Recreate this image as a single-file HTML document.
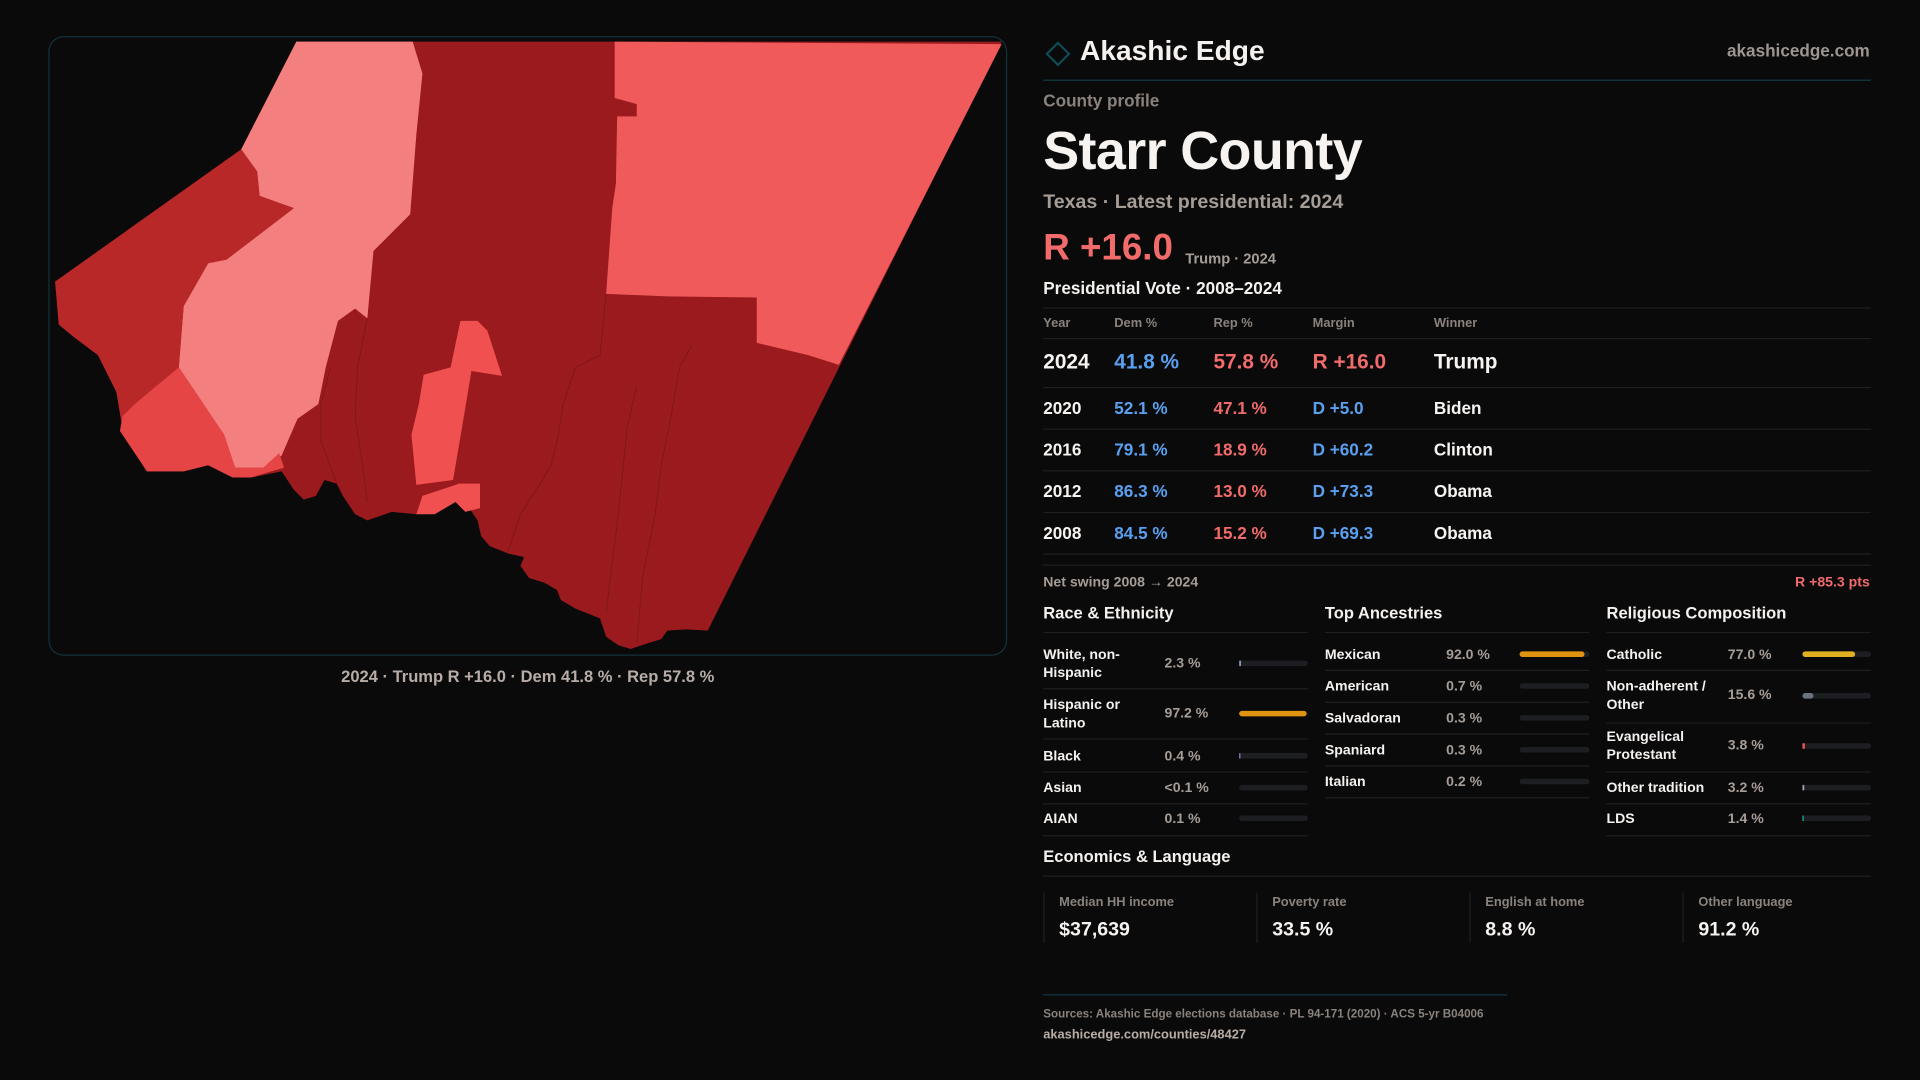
<!DOCTYPE html>
<html><head><meta charset="utf-8"><style>
html,body{margin:0;padding:0;background:#0a0a0b;}
svg{display:block}
text{font-family:"Liberation Sans",sans-serif;}
</style></head><body>
<svg width="1920" height="1080" viewBox="0 0 1568 882" xmlns="http://www.w3.org/2000/svg">
<rect width="1568" height="882" fill="#0a0a0b"/>
<defs><clipPath id="cp"><rect x="40" y="30" width="782" height="505" rx="12"/></clipPath></defs>
<rect x="40" y="30" width="782" height="505" rx="12" fill="#0a0a0b" stroke="#12323a" stroke-width="1"/>
<g clip-path="url(#cp)">
<!-- base dark -->
<polygon fill="#9a1a1e" points="242,34 818,34 578,515 560,514 545,515 540,522 530,525 515,530 505,527 495,520 490,505 470,497 458,490 455,482 445,476 432,472 425,462 428,455 415,452 400,446 393,438 390,425 380,410 372,408 360,415 340,420 320,418 300,425 290,420 280,405 275,395 265,392 258,405 248,408 240,400 230,385 205,390 190,390 170,380 150,385 120,385 110,370 98,352 100,340 95,320 80,290 60,275 48,265 45,230 197,122"/>
<!-- salmon NE -->
<polygon fill="#f05a5a" points="502,34 818,36 685,298 660,290 618,280 618,243 545,242 495,240 500,170 503,150 504,95 520,95 520,85 502,80"/>
<!-- pink -->
<polygon fill="#f47f7f" points="242,34 337,34 345,60 340,110 335,175 305,205 300,260 290,252 276,262 266,300 260,330 243,342 230,372 215,382 192,382 183,355 146,300 150,250 170,215 185,212 240,170 212,160 210,140 197,122"/>
<!-- mid red left -->
<polygon fill="#b82828" points="197,122 45,230 48,265 60,275 80,290 95,320 100,350 110,330 146,300 150,250 170,215 185,212 240,170 212,160 210,140"/>
<!-- bright red SW -->
<polygon fill="#e64545" points="110,330 146,300 183,355 192,382 215,382 228,370 232,382 218,386 205,390 190,390 170,380 150,385 120,385 110,370 98,352 100,340"/>
<!-- small bright middle -->
<polygon fill="#f05050" points="376,262 384,262 390,262 398,270 410,307 385,303 378,345 370,392 340,396 336,355 342,330 346,306 368,300"/>
<polygon fill="#f05050" points="345,405 375,395 392,395 392,415 380,418 372,410 355,420 340,420"/>
<!-- subtle boundaries -->
<g fill="none" stroke="#7a1418" stroke-width="0.6">
<polyline points="495,240 490,290 470,300 460,330 455,360 450,380 438,400 425,420 415,450"/>
<polyline points="565,282 555,300 548,340 540,380 535,420 525,470 520,525"/>
<polyline points="520,315 512,350 505,420 495,500"/>
<polyline points="270,300 262,330 262,360 275,395"/>
<polyline points="300,260 292,300 290,340 296,380 300,410"/>
</g>
</g>
<text x="431" y="557" text-anchor="middle" font-size="13.5" font-weight="bold" fill="#b7aca6">2024 · Trump R +16.0 · Dem 41.8 % · Rep 57.8 %</text>

<!-- header -->
<polygon points="864,35 873,44 864,53 855,44" fill="none" stroke="#0f4a55" stroke-width="1.8"/>
<text x="882" y="49" font-size="23" font-weight="bold" fill="#f4f1ee">Akashic Edge</text>
<text x="1527" y="46" text-anchor="end" font-size="14" font-weight="bold" fill="#9d958f">akashicedge.com</text>
<line x1="852" y1="65.5" x2="1528" y2="65.5" stroke="#0f3a44" stroke-width="1"/>
<text x="852" y="87" font-size="14" font-weight="bold" fill="#8a827c">County profile</text>
<text x="852" y="138" font-size="44" font-weight="bold" fill="#f6f3f0" letter-spacing="-0.5">Starr County</text>
<text x="852" y="170" font-size="16" font-weight="bold" fill="#a69d96">Texas · Latest presidential: 2024</text>
<text x="852" y="212" font-size="30" font-weight="bold" fill="#f26b6b">R +16.0</text>
<text x="968" y="215" font-size="12" font-weight="bold" fill="#a69d96">Trump · 2024</text>
<text x="852" y="240" font-size="14" font-weight="bold" fill="#f4f1ee">Presidential Vote · 2008–2024</text>
<g stroke="#1d1f22" stroke-width="1">
<line x1="852" y1="251.5" x2="1528" y2="251.5"/>
<line x1="852" y1="276.5" x2="1528" y2="276.5"/>
<line x1="852" y1="316.5" x2="1528" y2="316.5"/>
<line x1="852" y1="350.5" x2="1528" y2="350.5"/>
<line x1="852" y1="384.5" x2="1528" y2="384.5"/>
<line x1="852" y1="418.5" x2="1528" y2="418.5"/>
<line x1="852" y1="452.5" x2="1528" y2="452.5"/>
<line x1="852" y1="461.5" x2="1528" y2="461.5"/>
</g>
<g font-size="10.5" font-weight="bold" fill="#8a827c">
<text x="852" y="267">Year</text><text x="910" y="267">Dem %</text><text x="991" y="267">Rep %</text><text x="1072" y="267">Margin</text><text x="1171" y="267">Winner</text>
</g>
<g font-size="17" font-weight="bold">
<text x="852" y="301" fill="#f6f3f0">2024</text><text x="910" y="301" fill="#5aa0f0">41.8 %</text><text x="991" y="301" fill="#f26b6b">57.8 %</text><text x="1072" y="301" fill="#f26b6b">R +16.0</text><text x="1171" y="301" fill="#f6f3f0">Trump</text>
</g>
<g font-size="14" font-weight="bold">
<text x="852" y="338" fill="#f6f3f0">2020</text><text x="910" y="338" fill="#5aa0f0">52.1 %</text><text x="991" y="338" fill="#f26b6b">47.1 %</text><text x="1072" y="338" fill="#5aa0f0">D +5.0</text><text x="1171" y="338" fill="#f6f3f0">Biden</text>
<text x="852" y="372" fill="#f6f3f0">2016</text><text x="910" y="372" fill="#5aa0f0">79.1 %</text><text x="991" y="372" fill="#f26b6b">18.9 %</text><text x="1072" y="372" fill="#5aa0f0">D +60.2</text><text x="1171" y="372" fill="#f6f3f0">Clinton</text>
<text x="852" y="406" fill="#f6f3f0">2012</text><text x="910" y="406" fill="#5aa0f0">86.3 %</text><text x="991" y="406" fill="#f26b6b">13.0 %</text><text x="1072" y="406" fill="#5aa0f0">D +73.3</text><text x="1171" y="406" fill="#f6f3f0">Obama</text>
<text x="852" y="440" fill="#f6f3f0">2008</text><text x="910" y="440" fill="#5aa0f0">84.5 %</text><text x="991" y="440" fill="#f26b6b">15.2 %</text><text x="1072" y="440" fill="#5aa0f0">D +69.3</text><text x="1171" y="440" fill="#f6f3f0">Obama</text>
</g>
<text x="852" y="479" font-size="11.5" font-weight="bold" fill="#a69d96">Net swing 2008 → 2024</text>
<text x="1527" y="479" text-anchor="end" font-size="11.5" font-weight="bold" fill="#f26b6b">R +85.3 pts</text>

<!-- section headings -->
<g font-size="13.5" font-weight="bold" fill="#f4f1ee">
<text x="852" y="505">Race &amp; Ethnicity</text>
<text x="1082" y="505">Top Ancestries</text>
<text x="1312" y="505">Religious Composition</text>
</g>
<g stroke="#1d1f22" stroke-width="1">
<line x1="852" y1="516.5" x2="1068" y2="516.5"/><line x1="1082" y1="516.5" x2="1298" y2="516.5"/><line x1="1312" y1="516.5" x2="1528" y2="516.5"/>
<line x1="852" y1="562.5" x2="1068" y2="562.5"/><line x1="852" y1="603.5" x2="1068" y2="603.5"/><line x1="852" y1="630.5" x2="1068" y2="630.5"/><line x1="852" y1="656.5" x2="1068" y2="656.5"/><line x1="852" y1="682.5" x2="1068" y2="682.5"/>
<line x1="1082" y1="547.5" x2="1298" y2="547.5"/><line x1="1082" y1="573.5" x2="1298" y2="573.5"/><line x1="1082" y1="599.5" x2="1298" y2="599.5"/><line x1="1082" y1="625.5" x2="1298" y2="625.5"/><line x1="1082" y1="651.5" x2="1298" y2="651.5"/>
<line x1="1312" y1="547.5" x2="1528" y2="547.5"/><line x1="1312" y1="590.5" x2="1528" y2="590.5"/><line x1="1312" y1="630.5" x2="1528" y2="630.5"/><line x1="1312" y1="656.5" x2="1528" y2="656.5"/><line x1="1312" y1="682.5" x2="1528" y2="682.5"/>
</g>
<g font-size="11.5" font-weight="bold" fill="#f4f1ee">
<text x="852" y="538">White, non-</text><text x="852" y="553">Hispanic</text>
<text x="852" y="579">Hispanic or</text><text x="852" y="594">Latino</text>
<text x="852" y="621">Black</text><text x="852" y="647">Asian</text><text x="852" y="672">AIAN</text>
<text x="1082" y="538">Mexican</text><text x="1082" y="564">American</text><text x="1082" y="590">Salvadoran</text><text x="1082" y="616">Spaniard</text><text x="1082" y="642">Italian</text>
<text x="1312" y="538">Catholic</text><text x="1312" y="564">Non-adherent /</text><text x="1312" y="579">Other</text>
<text x="1312" y="605">Evangelical</text><text x="1312" y="620">Protestant</text>
<text x="1312" y="647">Other tradition</text><text x="1312" y="672">LDS</text>
</g>
<g font-size="11.5" font-weight="bold" fill="#a69d96">
<text x="951" y="545">2.3 %</text><text x="951" y="586">97.2 %</text><text x="951" y="621">0.4 %</text><text x="951" y="647">&lt;0.1 %</text><text x="951" y="672">0.1 %</text>
<text x="1181" y="538">92.0 %</text><text x="1181" y="564">0.7 %</text><text x="1181" y="590">0.3 %</text><text x="1181" y="616">0.3 %</text><text x="1181" y="642">0.2 %</text>
<text x="1411" y="538">77.0 %</text><text x="1411" y="571">15.6 %</text><text x="1411" y="612">3.8 %</text><text x="1411" y="647">3.2 %</text><text x="1411" y="672">1.4 %</text>
</g>
<g fill="#1c1e22">
<rect x="1012" y="539.5" width="56" height="4.5" rx="2.2"/><rect x="1012" y="580.5" width="56" height="4.5" rx="2.2"/><rect x="1012" y="615" width="56" height="4.5" rx="2.2"/><rect x="1012" y="641" width="56" height="4.5" rx="2.2"/><rect x="1012" y="666" width="56" height="4.5" rx="2.2"/>
<rect x="1241" y="532" width="57" height="4.5" rx="2.2"/><rect x="1241" y="558" width="57" height="4.5" rx="2.2"/><rect x="1241" y="584" width="57" height="4.5" rx="2.2"/><rect x="1241" y="610" width="57" height="4.5" rx="2.2"/><rect x="1241" y="636" width="57" height="4.5" rx="2.2"/>
<rect x="1472" y="532" width="56" height="4.5" rx="2.2"/><rect x="1472" y="566" width="56" height="4.5" rx="2.2"/><rect x="1472" y="607" width="56" height="4.5" rx="2.2"/><rect x="1472" y="641" width="56" height="4.5" rx="2.2"/><rect x="1472" y="666" width="56" height="4.5" rx="2.2"/>
</g>
<rect x="1012" y="539.5" width="1.5" height="4.5" fill="#8a96b0"/>
<rect x="1012" y="580.5" width="55" height="4.5" rx="2.2" fill="#e0930f"/>
<rect x="1012" y="615" width="1" height="4.5" fill="#8a80d0"/>
<rect x="1241" y="532" width="53" height="4.5" rx="2.2" fill="#e0930f"/>
<rect x="1472" y="532" width="43" height="4.5" rx="2.2" fill="#e0b020"/>
<rect x="1472" y="566" width="9" height="4.5" rx="2.2" fill="#6a7280"/>
<rect x="1472" y="607" width="2" height="4.5" fill="#f05050"/>
<rect x="1472" y="641" width="1.5" height="4.5" fill="#9aa0b0"/>
<rect x="1472" y="666" width="1" height="4.5" fill="#20b0a0"/>

<!-- economics -->
<text x="852" y="704" font-size="13.5" font-weight="bold" fill="#f4f1ee">Economics &amp; Language</text>
<line x1="852" y1="715.5" x2="1528" y2="715.5" stroke="#1d1f22"/>
<g stroke="#1d1f22"><line x1="852.5" y1="729" x2="852.5" y2="770"/><line x1="1026.5" y1="729" x2="1026.5" y2="770"/><line x1="1200.5" y1="729" x2="1200.5" y2="770"/><line x1="1374.5" y1="729" x2="1374.5" y2="770"/></g>
<g font-size="10.5" font-weight="bold" fill="#8a827c">
<text x="865" y="740">Median HH income</text><text x="1039" y="740">Poverty rate</text><text x="1213" y="740">English at home</text><text x="1387" y="740">Other language</text>
</g>
<g font-size="16" font-weight="bold" fill="#f6f3f0">
<text x="865" y="764">$37,639</text><text x="1039" y="764">33.5 %</text><text x="1213" y="764">8.8 %</text><text x="1387" y="764">91.2 %</text>
</g>
<line x1="852" y1="812.5" x2="1231" y2="812.5" stroke="#0f3a44"/>
<text x="852" y="831" font-size="9.5" font-weight="bold" fill="#8a827c">Sources: Akashic Edge elections database · PL 94-171 (2020) · ACS 5-yr B04006</text>
<text x="852" y="848" font-size="10.5" font-weight="bold" fill="#b7aca6">akashicedge.com/counties/48427</text>
</svg>
</body></html>
